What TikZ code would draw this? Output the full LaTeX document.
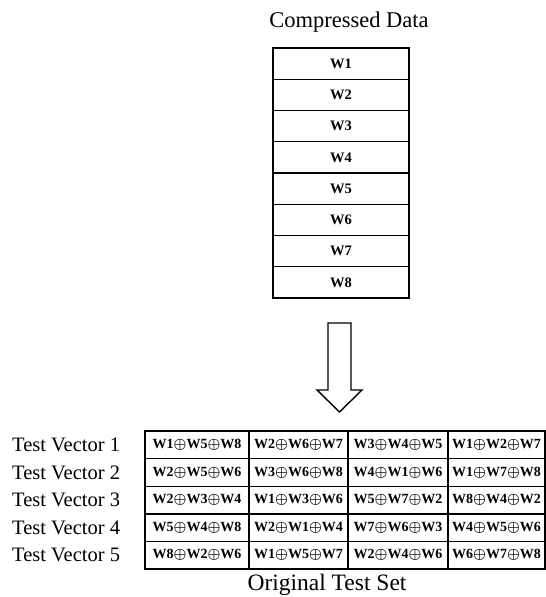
\documentclass[tikz,border=0pt]{standalone}
\usepackage{fontspec}
\setmainfont{Liberation Serif}
\newcommand{\xw}[3]{{\boldmath W#1$\oplus$W#2$\oplus$W#3}}
\begin{document}
\begin{tikzpicture}[x=1pt,y=-1pt,
  wbox/.style={draw, line width=1.4pt, minimum width=136pt, minimum height=31.25pt, inner sep=0pt, font=\fontsize{14.5}{16}\selectfont\bfseries},
  cell/.style={draw, line width=1.4pt, minimum height=27.6pt, inner sep=0pt, font=\fontsize{14}{16}\selectfont\bfseries},
  c1/.style={cell, minimum width=104pt},
  c2/.style={cell, minimum width=99pt},
  c3/.style={cell, minimum width=100pt},
  c4/.style={cell, minimum width=97pt},
  lbl/.style={anchor=west, inner sep=0pt, font=\fontsize{20.5}{24}\selectfont},
  ttl/.style={inner sep=0pt, font=\fontsize{22.5}{26}\selectfont},
  blockarrow/.style={draw, line width=1.4pt, fill=white}]
\useasboundingbox (0,0) rectangle (546,597);
\node[ttl] (title) at (349,22) {Compressed Data};
\foreach \i in {1,...,8} \node[wbox] (w\i) at (341,{48+31.25*(\i-0.5)}) {W\i};
% block arrow
\draw[blockarrow] (328,323) -- (351,323) -- (351,390) -- (362,390) -- (339.5,412) -- (317,390) -- (328,390) -- cycle;
% table rows
\node[c1] (r1c1) at (197,444.8) {\xw158};
\node[c2] (r1c2) at (298.5,444.8) {\xw267};
\node[c3] (r1c3) at (398,444.8) {\xw345};
\node[c4] (r1c4) at (496.5,444.8) {\xw127};
\node[c1] (r2c1) at (197,472.4) {\xw256};
\node[c2] (r2c2) at (298.5,472.4) {\xw368};
\node[c3] (r2c3) at (398,472.4) {\xw416};
\node[c4] (r2c4) at (496.5,472.4) {\xw178};
\node[c1] (r3c1) at (197,500) {\xw234};
\node[c2] (r3c2) at (298.5,500) {\xw136};
\node[c3] (r3c3) at (398,500) {\xw572};
\node[c4] (r3c4) at (496.5,500) {\xw842};
\node[c1] (r4c1) at (197,527.6) {\xw548};
\node[c2] (r4c2) at (298.5,527.6) {\xw214};
\node[c3] (r4c3) at (398,527.6) {\xw763};
\node[c4] (r4c4) at (496.5,527.6) {\xw456};
\node[c1] (r5c1) at (197,555.2) {\xw826};
\node[c2] (r5c2) at (298.5,555.2) {\xw157};
\node[c3] (r5c3) at (398,555.2) {\xw246};
\node[c4] (r5c4) at (496.5,555.2) {\xw678};
% row labels
\foreach \r/\yy in {1/444.8,2/472.4,3/500,4/527.6,5/555.2}
  \node[lbl] (tv\r) at (12,\yy) {Test Vector \r};
\node[ttl, font=\fontsize{23.5}{27}\selectfont] (ots) at (327,585) {Original Test Set};
\end{tikzpicture}
\end{document}
